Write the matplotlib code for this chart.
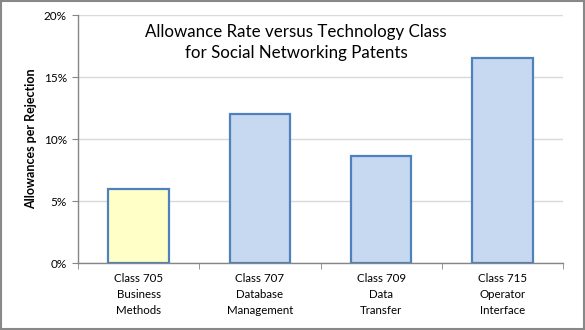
import numpy as np
import matplotlib
matplotlib.use('Agg')
from matplotlib import pyplot as plt
from matplotlib.ticker import PercentFormatter, FixedLocator

classes = ['Class 705\nBusiness\nMethods', 'Class 707\nDatabase\nManagement',
           'Class 709\nData\nTransfer', 'Class 715\nOperator\nInterface']
rates = [6.0, 12.0, 8.6, 16.5]
fills = ['#FFFFC8', '#C6D9F1', '#C6D9F1', '#C6D9F1']

plt.rcParams['font.family'] = ['Lato', 'DejaVu Sans']

fig = plt.figure(figsize=(5.85, 3.3), dpi=100)
ax = fig.add_axes([78/585, 1 - 263/330, (563-78)/585, (263-15)/330])

x = np.arange(len(rates))
ax.bar(x, rates, width=0.5, color=fills, edgecolor='#4F81BD', linewidth=1.6, zorder=3)

ax.set_xlim(-0.5, 3.5)
ax.set_ylim(0, 20)
ax.set_yticks([0, 5, 10, 15, 20])
ax.yaxis.set_major_formatter(PercentFormatter(decimals=0))
ax.grid(axis='y', color='#D9D9D9', linewidth=1, zorder=0)

ax.set_xticks(x)
ax.set_xticklabels(classes, fontsize=8.3, linespacing=1.55)
ax.xaxis.set_minor_locator(FixedLocator([-0.5, 0.5, 1.5, 2.5, 3.5]))
ax.tick_params(axis='x', which='major', length=0, pad=7)
ax.tick_params(axis='x', which='minor', length=4, color='#868686')
ax.tick_params(axis='y', length=4, color='#868686', labelsize=8.5, pad=4)

for s in ['top', 'right']:
    ax.spines[s].set_visible(False)
for s in ['left', 'bottom']:
    ax.spines[s].set_color('#868686')
    ax.spines[s].set_linewidth(1)

ax.set_ylabel('Allowances per Rejection', fontsize=9, fontweight='bold', labelpad=5)

ax.text(0.45, 0.965, 'Allowance Rate versus Technology Class\nfor Social Networking Patents',
        transform=ax.transAxes, ha='center', va='top', fontsize=12.2, linespacing=1.4)

# grey frame round the whole chart
fig.patches.append(plt.Rectangle((0.002, 0.003), 0.996, 0.994, transform=fig.transFigure,
                                 fill=False, edgecolor='#888888', linewidth=1.5))

fig.savefig('out.png', dpi=100)
